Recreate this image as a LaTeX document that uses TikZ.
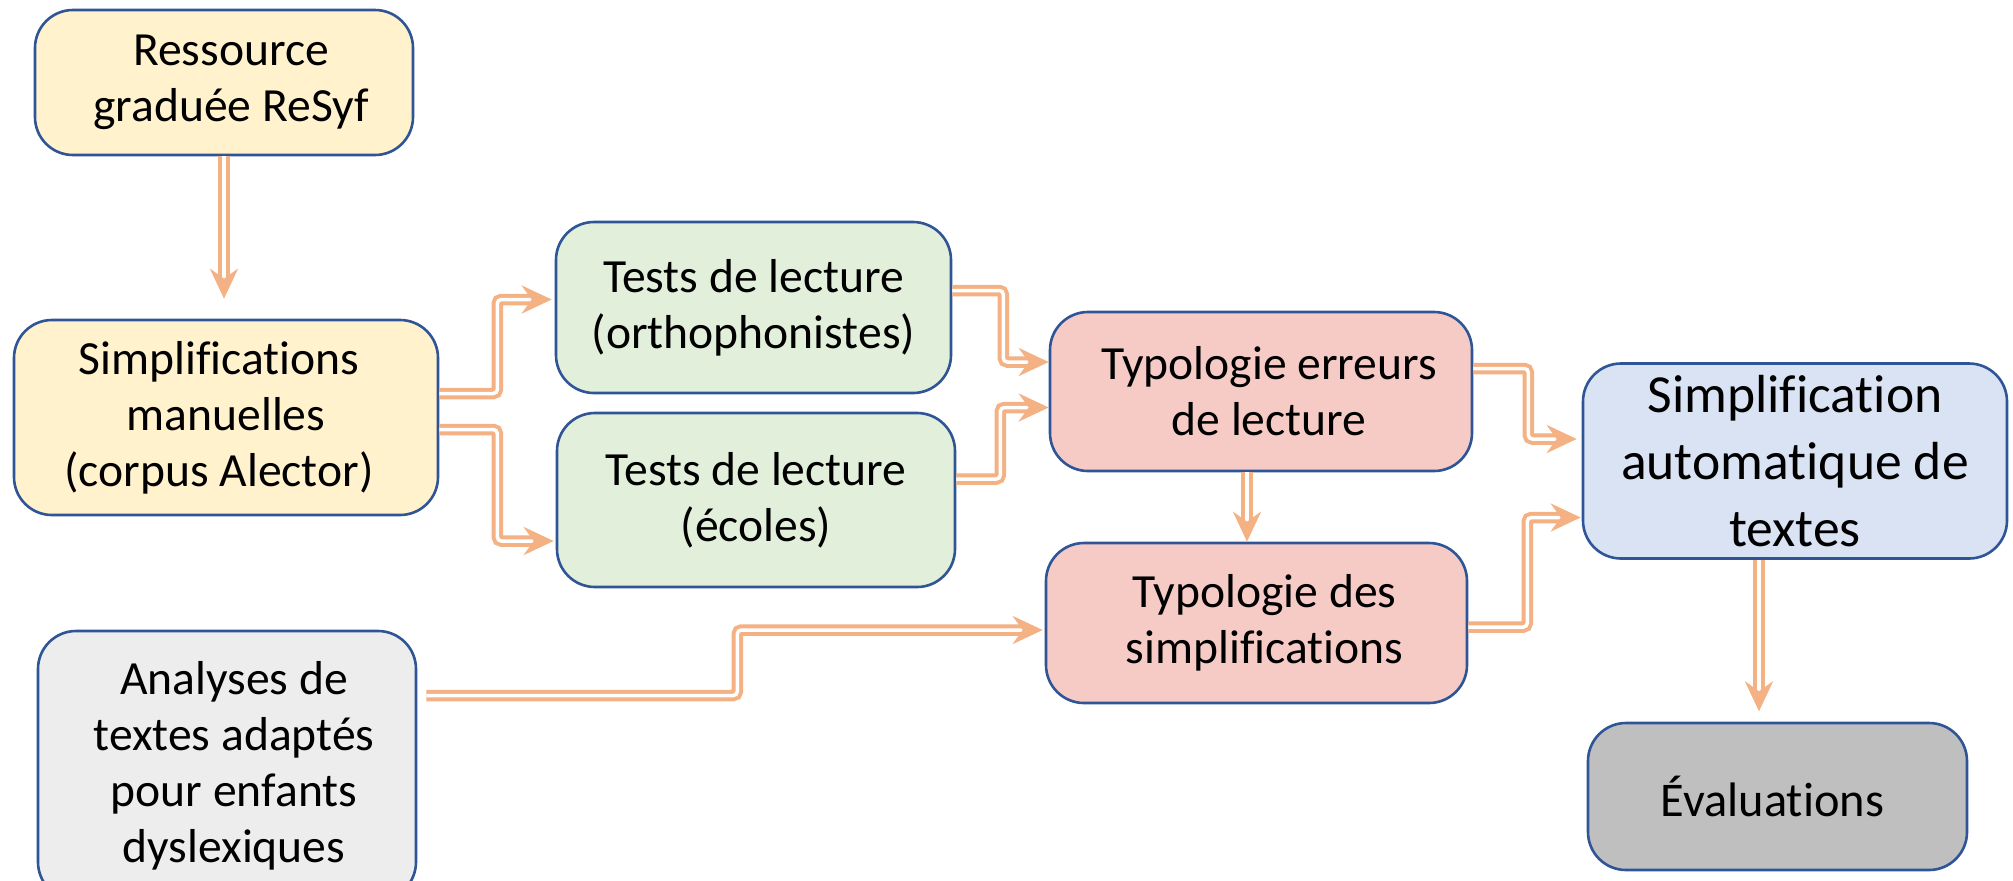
\documentclass[tikz,border=0pt]{standalone}
\usepackage{fontspec}
\setmainfont{Carlito}[Ligatures={NoCommon}]
\usetikzlibrary{arrows.meta,calc}
\definecolor{bordc}{HTML}{2F5597}
\definecolor{arrc}{HTML}{F4B183}
\definecolor{yel}{HTML}{FFF2CC}
\definecolor{grn}{HTML}{E2EFDA}
\definecolor{pnk}{HTML}{F6CBC5}
\definecolor{blu}{HTML}{DAE3F3}
\definecolor{gry}{HTML}{EDEDED}
\definecolor{dgry}{HTML}{BFBFBF}
\newcommand\lsh[1]{\hspace*{#1}}
\tikzset{
  box/.style={draw=bordc, line width=1.3pt, rounded corners=19pt, align=center,
    inner sep=0pt, text=black, font=\fontsize{23.8}{28}\selectfont},
  arr/.style={draw=arrc, double=white, line width=2pt, double distance=1.75pt,
    rounded corners=2pt,
    -{Stealth[length=15pt, width=14pt, inset=5pt, fill=arrc]}}
}
\begin{document}
\begin{tikzpicture}[x=0.5pt, y=-0.5pt]
\useasboundingbox (0,0) rectangle (2013,880);
\clip (0,0) rectangle (2013,880);
\fill[white] (0,0) rectangle (2013,880);

\node[box, fill=yel, minimum width=189pt, minimum height=72.5pt] (res) at (224,82.5) {\lsh{7pt}Ressource\\\lsh{7pt}graduée ReSyf};
\node[box, fill=yel, minimum width=212pt, minimum height=97.5pt] (man) at (226,417.5) {Simplifications\lsh{7pt}\\manuelles\lsh{7pt}\\(corpus Alector)\lsh{7pt}};
\node[box, fill=grn, minimum width=197.5pt, minimum height=85.5pt] (orth) at (753.5,307.5) {Tests de lecture\\(orthophonistes)};
\node[box, fill=grn, minimum width=199pt, minimum height=87pt] (eco) at (756,500) {Tests de lecture\\(écoles)};
\node[box, fill=pnk, minimum width=211pt, minimum height=79.5pt] (err) at (1261,391.5) {\lsh{8pt}Typologie erreurs\\\lsh{8pt}de lecture};
\node[box, fill=pnk, minimum width=210.5pt, minimum height=80pt] (sim) at (1256.5,623) {\lsh{8pt}Typologie des\\\lsh{8pt}simplifications};
\node[box, fill=blu, minimum width=212pt, minimum height=97.5pt, font=\fontsize{26.8}{33.5}\selectfont] (auto) at (1795,461) {Simplification\\automatique de\\textes};
\node[box, fill=dgry, minimum width=189.5pt, minimum height=73.5pt, font=\fontsize{24.2}{28}\selectfont] (eval) at (1777.5,796.5) {Évaluations\lsh{5pt}};
\node[box, fill=gry, minimum width=189pt, minimum height=134.5pt] (ana) at (227,765.5) {\lsh{7pt}Analyses de\\\lsh{7pt}textes adaptés\\\lsh{7pt}pour enfants\\\lsh{7pt}dyslexiques};

% connectors
\draw[arr] (res.south) -- ($(res.south |- man.north)+(0,-20)$);
\draw[arr] ($(man.east)+(0,-24)$) -- ++(58,0) |- ($(orth.west)+(-3,-8)$);
\draw[arr] ($(man.east)+(0,12)$) -- ++(58,0) |- ($(eco.west)+(-2,41)$);
\draw[arr] ($(orth.east)+(0,-17)$) -- ++(51,0) |- ($(err.west)+(0,-29.5)$);
\draw[arr] ($(eco.east)+(0,-21)$) -- ++(44,0) |- ($(err.west)+(0,16)$);
\draw[arr] ($(err.south)+(-14,0)$) -- ($(err.south |- sim.north)+(-14,0)$);
\draw[arr] ($(err.east)+(0,-23)$) -- ++(55,0) |- ($(auto.west)+(-5,-22)$);
\draw[arr] ($(sim.east)+(0,4)$) -- ++(59,0) |- ($(auto.west)+(-1,56.5)$);
\draw[arr] ($(auto.south)+(-36,0)$) -- ($(auto.south)+(-36,151.5)$);
\draw[arr] ($(ana.east)+(9,-70)$) -- ++(311,0) |- ($(sim.west)+(-2,7)$);
\end{tikzpicture}
\end{document}
